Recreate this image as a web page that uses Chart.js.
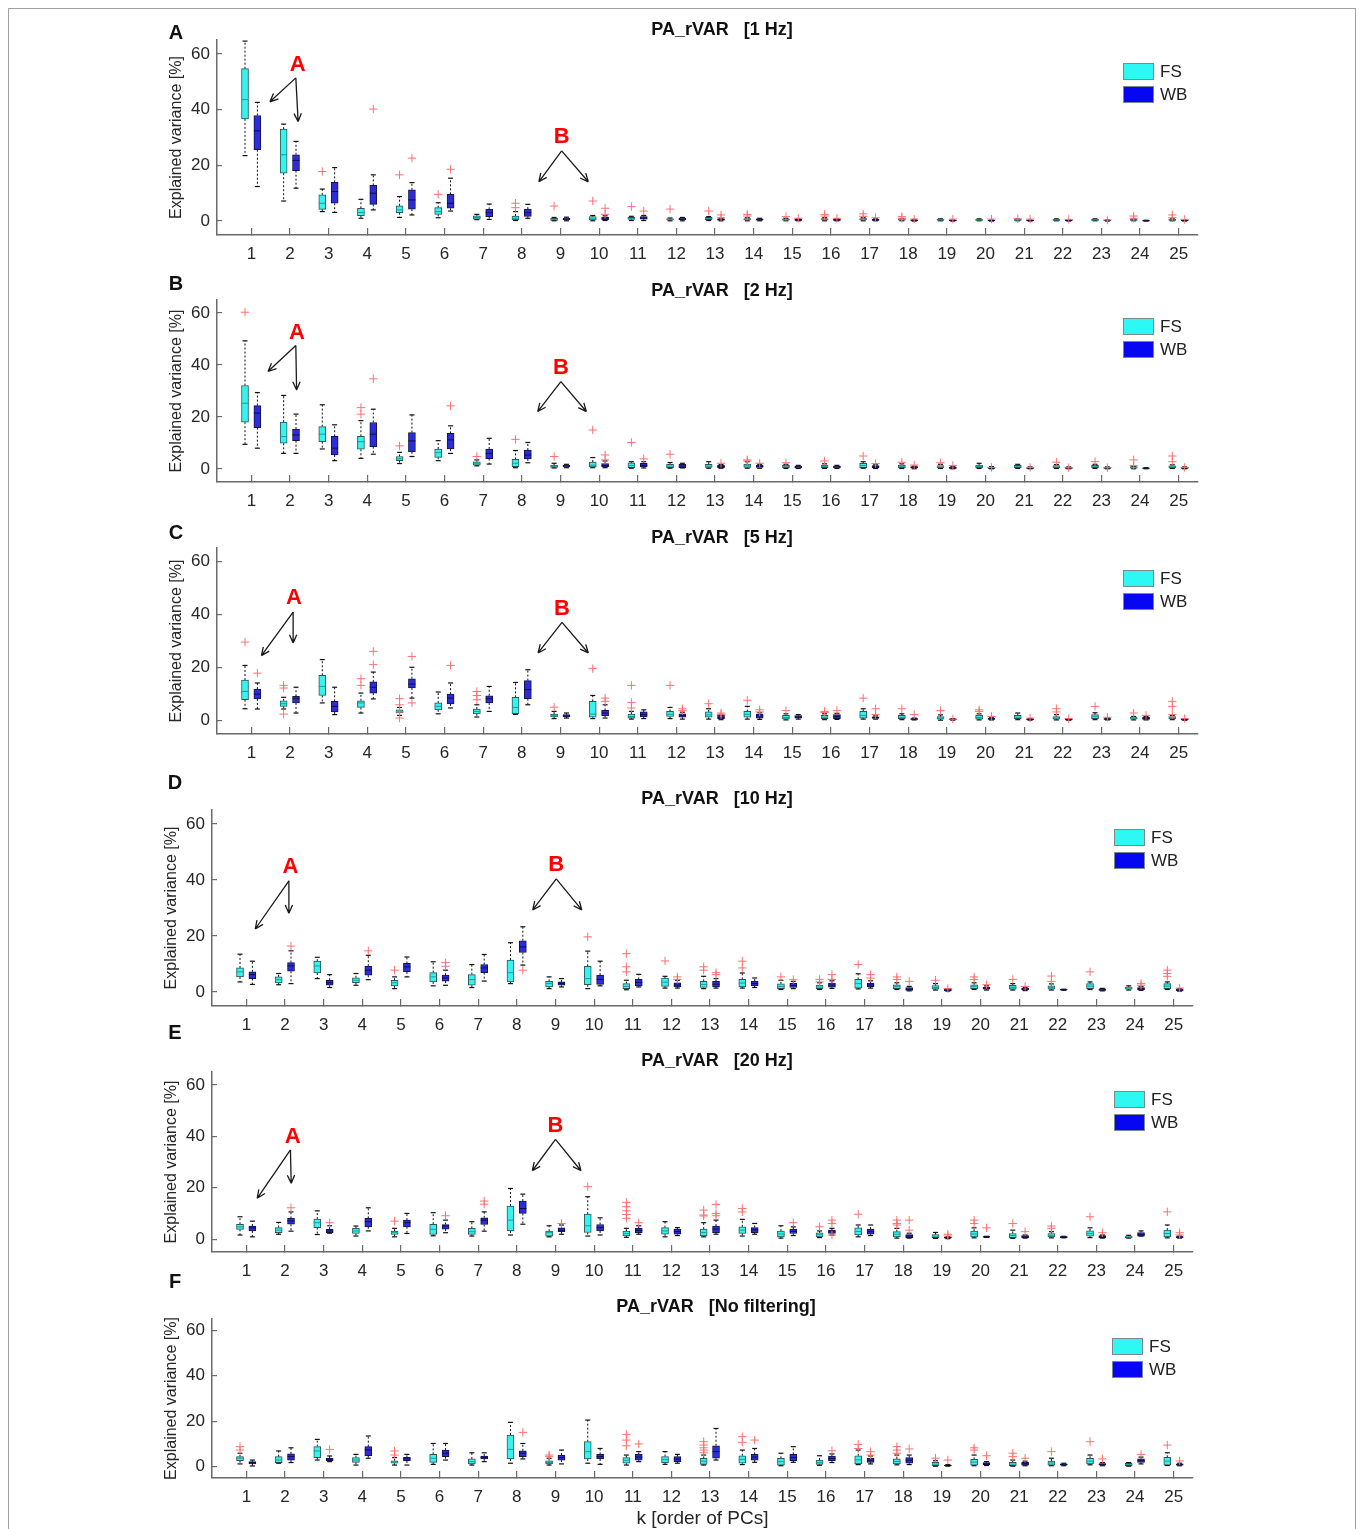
<!DOCTYPE html>
<html>
<head>
<meta charset="utf-8">
<script src="https://cdn.jsdelivr.net/npm/chart.js@4.4.1/dist/chart.umd.min.js"></script>
<style>
  body { margin: 0; width: 1362px; height: 1529px; overflow: hidden; background: #fff; position: relative;
         font-family: "Liberation Sans", Arial, sans-serif; }
  .frame { position: absolute; left: 8px; top: 8px; width: 1346px; height: 1540px; border: 1px solid #a0a0a0; }
  canvas { position: absolute; }
  .letter { position: absolute; font-weight: bold; font-size: 20px; color: #111; transform: translate(-50%, -50%); }
  .title { position: absolute; font-weight: bold; font-size: 18px; color: #111; white-space: pre; transform: translate(-50%, -50%); }
  .patch { position: absolute; width: 31px; height: 17px; box-sizing: border-box; border: 1px solid #7a8a8a; }
  .legtext { position: absolute; font-size: 17px; color: #222; transform: translateY(-50%); }
</style>
</head>
<body>
<div class="frame"></div>
<script>
// k = order of PCs
const categories = [1, 2, 3, 4, 5, 6, 7, 8, 9, 10, 11, 12, 13, 14, 15, 16, 17, 18, 19, 20, 21, 22, 23, 24, 25];
const yTickValues = [0, 20, 40, 60];
const seriesNames = ["FS", "WB"];

// box stats per k: [lower whisker, q1, median, q3, upper whisker]
const fs1Hz = [[23.5,36.7,43.6,54.7,64.6],[7.2,17.2,23.8,33.0,34.8],[3.4,4.2,6.4,9.4,11.5],[1.0,1.9,3.1,4.6,7.8],[1.3,3.0,4.0,5.5,8.8],
  [1.2,2.4,3.4,4.8,6.6],[0.5,0.7,1.3,1.9,2.4],[0.2,0.4,1.0,1.8,3.4],[0.1,0.2,0.6,1.0,1.3],[0.1,0.4,0.8,1.6,2.0],
  [0.2,0.6,0.9,1.3,1.7],[0.1,0.4,0.6,0.8,1.1],[0.2,0.5,0.9,1.3,1.6],[0.1,0.4,0.6,0.9,1.2],[0.1,0.3,0.5,0.8,1.0],
  [0.1,0.4,0.6,0.9,1.2],[0.1,0.4,0.6,0.9,1.2],[0.1,0.3,0.5,0.7,0.9],[0.1,0.2,0.4,0.6,0.8],[0.1,0.2,0.4,0.6,0.8],
  [0.1,0.2,0.4,0.6,0.8],[0.1,0.2,0.4,0.6,0.8],[0.1,0.2,0.4,0.6,0.8],[0.1,0.2,0.4,0.6,0.7],[0.1,0.2,0.4,0.6,0.8]];
const wb1Hz = [[12.4,25.6,32.4,37.9,42.6],[11.8,18.1,21.8,23.8,28.6],[3.1,6.4,10.6,13.9,19.2],[4.0,6.0,10.0,12.8,16.6],[2.2,4.3,7.6,11.2,13.8],
  [3.6,4.6,6.4,9.6,15.4],[0.6,1.6,3.0,4.2,6.1],[1.0,1.7,3.0,4.3,6.0],[0.1,0.4,0.7,1.1,1.4],[0.2,0.5,1.0,1.4,1.9],
  [0.2,0.7,1.1,1.6,2.0],[0.1,0.4,0.7,1.1,1.3],[0.1,0.3,0.5,0.8,1.0],[0.1,0.3,0.5,0.8,1.0],[0.1,0.2,0.4,0.6,0.8],
  [0.1,0.2,0.4,0.6,0.8],[0.1,0.2,0.4,0.6,0.8],[0.0,0.1,0.3,0.4,0.6],[0.0,0.1,0.2,0.3,0.4],[0.0,0.1,0.2,0.3,0.4],
  [0.0,0.1,0.2,0.3,0.4],[0.0,0.1,0.2,0.3,0.4],[0.0,0.1,0.2,0.3,0.4],[0.0,0.1,0.1,0.2,0.3],[0.0,0.1,0.2,0.3,0.4]];
const fsOut1Hz = [[3,17.8],[5,16.6],[6,9.6],[8,6.4],[8,4.8],[9,5.4],[10,7.2],[11,5.2],[12,4.3],[13,3.6],[14,2.4],[14,1.8],[15,1.6],
  [16,2.4],[16,1.8],[17,2.6],[17,1.7],[18,1.6],[18,1.0],[21,0.8],[24,1.8],[24,1.0],[25,2.2],[25,1.2]];
const wbOut1Hz = [[4,40.2],[5,22.6],[6,18.6],[10,4.6],[10,2.4],[11,3.6],[13,2.2],[13,1.2],[15,1.0],[16,1.0],[17,1.2],[18,0.7],
  [19,0.7],[20,0.7],[21,0.7],[22,0.6],[23,0.4],[25,0.6]];

const fs2Hz = [[9.5,18.0,25.3,32.1,49.3],[6.0,9.9,12.5,18.0,28.3],[7.7,10.5,13.4,16.3,24.7],[4.1,7.6,10.5,12.6,18.6],[2.1,3.2,3.9,4.8,6.4],
  [3.2,4.5,6.3,7.7,10.9],[1.2,1.5,2.2,2.8,3.5],[0.5,0.9,2.2,3.7,7.1],[0.4,0.6,1.0,1.5,2.2],[0.5,0.8,1.5,2.7,4.4],
  [0.3,0.5,1.3,2.4,2.8],[0.3,0.5,1.1,1.8,2.5],[0.3,0.6,1.1,1.8,2.8],[0.3,0.6,1.2,1.9,2.8],[0.2,0.5,0.9,1.4,1.8],
  [0.2,0.5,1.0,1.5,2.0],[0.3,0.5,1.3,2.2,2.8],[0.2,0.5,0.9,1.5,2.0],[0.2,0.5,0.8,1.3,1.8],[0.2,0.5,0.9,1.5,2.2],
  [0.2,0.5,0.9,1.4,1.8],[0.2,0.5,0.8,1.3,1.7],[0.2,0.5,0.9,1.4,1.8],[0.1,0.3,0.5,0.9,1.1],[0.2,0.5,0.8,1.2,1.6]];
const wb2Hz = [[8.0,15.9,21.5,24.4,29.4],[6.0,10.9,13.1,15.4,21.1],[3.2,5.4,8.0,12.6,17.0],[5.7,8.6,13.4,17.9,23.0],[4.8,6.6,10.8,14.0,20.8],
  [6.0,7.7,11.2,13.7,16.6],[1.9,4.0,6.0,7.7,11.8],[2.4,3.9,5.4,7.3,10.2],[0.5,0.8,1.2,1.5,1.8],[0.5,0.9,1.4,2.1,3.1],
  [0.4,0.8,1.4,2.2,2.8],[0.4,0.5,1.1,1.8,2.2],[0.3,0.5,0.9,1.4,1.7],[0.3,0.6,1.0,1.5,1.8],[0.2,0.4,0.8,1.1,1.4],
  [0.2,0.4,0.8,1.1,1.4],[0.2,0.5,0.9,1.3,1.6],[0.1,0.3,0.6,0.9,1.1],[0.1,0.2,0.4,0.7,0.9],[0.1,0.2,0.4,0.7,0.9],
  [0.1,0.2,0.4,0.6,0.8],[0.1,0.2,0.4,0.6,0.8],[0.1,0.2,0.4,0.6,0.8],[0.1,0.2,0.3,0.4,0.5],[0.1,0.2,0.4,0.6,0.8]];
const fsOut2Hz = [[1,60.3],[4,23.6],[4,21.1],[5,8.9],[7,4.8],[8,11.4],[9,4.8],[10,15.0],[11,10.2],[12,5.7],[14,3.5],[14,3.1],
  [15,2.4],[16,3.1],[17,5.0],[18,2.6],[19,2.4],[22,2.6],[23,2.8],[24,3.5],[24,1.3],[25,5.0],[25,2.8]];
const wbOut2Hz = [[4,34.7],[6,24.3],[10,5.4],[10,3.5],[11,3.9],[13,2.2],[14,2.2],[17,2.1],[18,1.5],[19,1.3],[20,0.6],[21,0.6],
  [22,0.5],[23,0.5],[25,0.6]];

const fs5Hz = [[4.5,7.9,11.0,15.3,20.8],[4.4,5.4,6.4,7.5,8.8],[6.7,9.5,12.9,17.1,23.0],[2.9,5.0,6.7,7.5,10.4],[2.0,2.9,3.5,4.1,5.0],
  [2.6,4.1,5.4,6.7,10.8],[1.4,2.6,3.5,4.4,6.0],[2.4,2.6,5.0,8.8,14.4],[0.8,1.4,1.9,2.5,3.5],[0.8,1.3,2.5,7.3,9.5],
  [0.6,1.0,1.6,2.5,3.5],[0.8,1.6,2.4,3.5,5.0],[0.6,1.3,2.2,3.3,4.5],[0.6,1.3,2.4,3.5,5.4],[0.3,0.6,1.2,2.0,2.6],
  [0.4,0.8,1.3,2.0,2.6],[0.6,1.0,2.0,3.5,4.5],[0.4,0.8,1.3,2.0,2.6],[0.2,0.6,1.0,1.6,2.2],[0.3,0.6,1.2,2.0,2.6],
  [0.4,0.8,1.3,2.0,2.9],[0.3,0.6,1.0,1.6,2.3],[0.4,0.8,1.5,2.3,3.0],[0.3,0.6,0.9,1.3,1.6],[0.4,0.8,1.1,1.6,2.0]];
const wb5Hz = [[4.4,8.2,10.0,11.9,14.2],[2.9,6.7,8.3,9.2,12.6],[2.3,3.3,5.4,7.3,12.6],[8.2,10.4,12.6,14.6,18.3],[8.5,12.3,13.8,15.8,20.1],
  [4.8,6.3,8.5,10.0,14.2],[3.5,6.7,8.3,9.4,12.9],[6.0,8.3,11.7,15.1,19.2],[1.0,1.4,1.8,2.3,2.9],[1.0,1.9,2.9,3.9,6.0],
  [0.8,1.4,2.3,3.3,4.1],[0.6,1.3,1.9,2.6,3.2],[0.4,0.8,1.3,2.0,2.4],[0.5,1.0,1.8,2.5,3.0],[0.6,1.0,1.4,1.9,2.3],
  [0.5,0.8,1.5,2.3,2.8],[0.6,0.9,1.2,1.5,1.8],[0.3,0.5,0.6,0.8,1.0],[0.2,0.4,0.5,0.6,0.8],[0.3,0.5,0.7,0.9,1.1],
  [0.2,0.4,0.5,0.6,0.8],[0.2,0.3,0.4,0.5,0.7],[0.3,0.5,0.6,0.8,1.0],[0.3,0.5,0.8,1.3,1.6],[0.2,0.3,0.4,0.5,0.7]];
const fsOut5Hz = [[1,29.6],[2,13.3],[2,12.3],[2,2.5],[4,15.8],[4,13.3],[5,8.3],[5,6.0],[5,3.3],[5,1.0],[7,11.0],[7,9.5],[7,7.9],
  [9,5.1],[10,19.6],[11,13.3],[11,6.9],[11,4.8],[12,13.3],[13,6.4],[14,7.7],[15,3.8],[16,3.5],[16,3.1],[17,8.5],[18,4.5],
  [19,3.8],[20,4.1],[20,3.5],[22,4.5],[22,3.3],[23,5.4],[24,2.9],[25,7.3],[25,5.4],[25,2.3]];
const wbOut5Hz = [[1,17.9],[4,26.1],[4,21.1],[5,24.2],[5,6.7],[6,20.8],[10,8.5],[10,7.3],[12,4.5],[12,3.8],[13,2.9],[13,2.3],
  [14,4.1],[14,3.3],[16,3.8],[17,4.5],[17,2.3],[18,2.3],[19,0.6],[20,1.6],[21,1.0],[22,0.8],[23,1.3],[24,2.0],[25,0.8]];

const fs10Hz = [[3.6,5.4,7.2,8.6,13.5],[2.6,3.2,4.4,5.4,6.6],[4.8,6.8,9.3,11.0,12.4],[2.4,3.3,4.2,5.1,6.6],[1.2,2.2,3.3,4.2,5.4],
  [2.2,3.6,5.4,6.9,10.8],[1.6,2.4,4.4,6.2,9.8],[3.0,3.6,6.9,11.4,17.6],[1.2,1.8,3.0,3.8,5.4],[1.2,2.6,4.8,9.2,14.6],
  [0.8,1.2,2.0,3.0,4.2],[1.4,2.0,3.5,5.0,5.6],[1.2,1.6,2.7,3.8,5.6],[1.4,1.8,3.2,4.5,6.8],[0.9,1.2,2.0,2.9,4.2],
  [0.9,1.2,1.8,2.5,3.3],[1.1,1.4,3.0,4.5,6.5],[0.9,1.2,1.9,2.6,3.3],[0.7,1.0,1.6,2.3,3.0],[0.9,1.2,1.9,2.6,3.3],
  [0.7,1.0,1.7,2.4,3.0],[0.7,1.0,1.6,2.2,2.9],[0.9,1.2,2.1,3.0,3.6],[0.7,1.0,1.4,1.8,2.2],[0.9,1.2,2.1,3.0,3.6]];
const wb10Hz = [[2.7,4.8,6.2,7.2,11.0],[3.0,7.4,9.3,10.5,14.7],[1.6,2.4,3.3,4.2,6.2],[4.4,6.0,7.8,9.2,13.1],[5.4,7.2,9.0,10.2,12.5],
  [2.4,3.9,5.0,6.0,7.8],[3.9,6.9,8.6,9.8,13.4],[9.6,14.1,16.1,18.3,23.3],[1.8,2.4,3.0,3.6,4.8],[2.2,2.7,4.5,6.0,11.0],
  [1.8,2.2,3.4,4.5,6.3],[1.4,1.8,2.5,3.3,4.2],[1.4,1.8,2.8,3.8,4.8],[1.6,2.2,3.0,3.9,5.0],[1.2,1.6,2.3,3.1,3.8],
  [1.3,1.7,2.5,3.2,4.0],[1.4,1.8,2.5,3.2,4.0],[0.4,0.6,1.0,1.6,2.0],[0.3,0.5,0.7,1.0,1.2],[0.7,1.0,1.4,1.8,2.2],
  [0.5,0.7,1.0,1.3,1.6],[0.6,0.7,0.8,0.9,1.0],[0.4,0.6,0.8,1.1,1.3],[0.6,0.8,1.1,1.6,1.9],[0.3,0.5,0.7,1.0,1.2]];
const fsOut10Hz = [[5,7.8],[10,19.7],[11,13.7],[11,9.0],[11,7.2],[12,11.1],[13,9.0],[13,7.8],[14,11.0],[14,8.6],[15,5.4],[16,4.5],
  [16,3.6],[17,9.8],[18,5.4],[18,4.5],[19,4.2],[20,5.4],[20,4.5],[21,4.5],[22,5.7],[22,3.8],[23,7.2],[25,7.8],[25,6.6],[25,5.6]];
const wbOut10Hz = [[2,16.4],[4,14.7],[6,10.5],[6,9.2],[8,7.8],[12,5.4],[12,4.5],[13,6.9],[13,6.2],[15,4.4],[16,6.2],[16,4.5],
  [17,6.2],[17,5.0],[18,3.8],[19,1.2],[20,2.6],[21,2.0],[24,3.0],[24,2.4],[25,1.4]];

const fs20Hz = [[1.6,3.8,4.8,5.8,8.7],[1.9,2.5,3.5,4.5,6.5],[1.8,4.5,6.4,7.8,11.0],[1.2,2.2,3.2,4.2,5.1],[0.9,1.8,2.5,3.1,4.2],
  [1.3,1.8,3.8,5.8,10.3],[1.2,1.8,2.9,4.2,6.8],[1.6,3.2,7.4,12.9,19.7],[0.9,1.2,2.5,3.1,5.2],[1.2,2.6,5.2,9.7,16.5],
  [0.7,1.3,2.2,3.1,4.2],[0.9,1.9,3.2,4.5,6.8],[0.9,1.3,2.6,3.9,6.4],[1.2,2.2,3.5,4.8,7.7],[0.4,0.9,2.0,3.1,5.2],
  [0.6,0.9,1.7,2.5,3.2],[0.9,1.6,3.0,4.4,5.5],[0.4,0.9,1.9,2.9,4.2],[0.3,0.6,1.2,1.8,2.6],[0.5,0.9,2.0,3.1,4.4],
  [0.3,0.6,1.4,2.2,3.5],[0.5,0.9,1.5,2.2,2.9],[0.6,1.2,2.2,3.2,4.4],[0.4,0.6,0.9,1.2,1.5],[0.5,0.9,2.2,3.5,5.5]];
const wb20Hz = [[0.9,3.2,4.4,5.1,7.0],[3.1,5.8,7.1,8.1,10.6],[2.3,2.5,3.2,3.9,5.2],[3.2,4.8,6.8,8.1,12.2],[2.2,4.8,6.4,7.4,10.0],
  [2.5,3.9,5.1,5.7,7.4],[3.1,5.7,7.4,8.3,10.6],[5.8,10.0,11.9,14.8,17.5],[1.9,2.9,3.5,4.4,5.5],[1.6,3.2,4.5,5.7,8.3],
  [1.9,2.5,3.4,4.2,5.2],[1.4,1.9,2.9,3.9,4.5],[1.9,2.5,3.9,5.1,7.4],[1.9,2.5,3.6,4.5,6.1],[1.4,2.2,3.0,3.9,4.8],
  [1.6,2.2,2.8,3.5,4.2],[1.4,1.9,2.9,3.9,5.5],[0.4,0.6,1.2,1.8,2.3],[0.2,0.4,0.6,0.8,1.0],[0.7,0.8,0.9,1.0,1.1],
  [0.4,0.6,0.9,1.4,1.6],[0.5,0.6,0.8,1.0,1.1],[0.4,0.6,0.9,1.4,1.6],[1.2,1.2,1.9,2.6,3.2],[0.4,0.6,0.8,1.0,1.2]];
const fsOut20Hz = [[5,7.0],[10,20.4],[11,14.3],[11,12.6],[11,11.0],[11,9.6],[11,8.1],[13,11.3],[13,9.4],[13,9.0],[14,11.9],
  [14,10.6],[16,4.8],[17,9.7],[18,7.4],[18,6.1],[18,5.5],[20,7.4],[20,6.1],[21,6.1],[22,5.1],[22,4.2],[23,8.7],[25,10.6]];
const wbOut20Hz = [[2,12.2],[3,6.4],[6,9.1],[7,14.8],[7,13.6],[9,6.1],[11,6.4],[13,13.5],[13,10.0],[13,9.1],[15,6.4],[16,7.4],
  [16,6.1],[16,1.6],[18,7.4],[18,3.5],[19,1.9],[19,1.2],[20,4.4],[21,2.9],[23,2.5],[25,2.5],[25,1.6]];

const fsNoFilt = [[1.2,2.6,3.7,4.4,5.9],[1.5,1.8,2.9,4.4,6.9],[2.9,4.0,6.9,8.8,12.0],[0.7,1.9,2.9,4.0,5.4],[0.7,1.5,1.9,2.6,4.0],
  [1.0,1.9,3.7,5.4,10.2],[0.7,1.2,2.2,3.4,6.1],[1.5,3.4,7.6,13.9,19.5],[0.7,1.2,1.8,2.6,3.7],[1.5,3.4,6.6,11.0,20.5],
  [0.7,1.5,2.8,4.0,5.1],[1.0,1.8,3.1,4.4,6.6],[0.7,1.0,2.4,3.7,5.1],[0.9,1.5,3.2,4.8,7.3],[0.4,0.7,2.2,3.7,5.9],
  [0.6,1.0,1.9,2.9,4.8],[0.9,1.2,3.0,4.8,7.3],[0.8,1.2,2.3,3.4,5.1],[0.2,0.4,1.1,1.9,2.6],[0.4,0.7,2.0,3.2,5.1],
  [0.2,0.4,1.1,1.9,2.9],[0.4,0.7,1.6,2.5,3.7],[0.8,1.2,2.4,3.7,5.1],[0.2,0.4,0.9,1.5,1.8],[0.5,0.7,2.4,4.1,6.1]];
const wbNoFilt = [[0.3,1.2,1.8,2.2,2.9],[1.8,2.9,4.4,5.6,8.3],[2.2,2.6,3.2,3.8,4.7],[3.7,4.8,7.3,8.8,13.5],[0.7,2.5,3.4,4.1,5.4],
  [2.9,4.4,5.9,7.3,10.2],[2.2,3.4,4.1,4.7,6.1],[3.4,4.4,5.9,7.0,10.2],[1.2,2.9,4.0,5.1,7.3],[1.0,3.4,4.4,5.4,8.0],
  [2.2,2.9,4.2,5.4,6.6],[1.5,2.2,3.3,4.4,5.4],[2.9,3.7,6.6,9.2,16.8],[1.9,2.9,4.2,5.4,8.0],[1.9,2.6,4.0,5.4,8.8],
  [1.8,2.6,3.6,4.7,5.6],[1.2,1.9,2.8,3.7,4.7],[0.9,1.5,2.8,4.0,5.1],[0.2,0.3,0.5,0.7,0.9],[0.5,0.9,1.3,1.8,2.2],
  [0.4,0.7,1.3,1.9,2.4],[0.4,0.6,0.9,1.2,1.5],[0.4,0.6,1.0,1.4,1.8],[1.2,1.9,2.6,3.4,4.2],[0.4,0.6,0.9,1.2,1.5]];
const fsOutNoFilt = [[1,8.8],[1,7.3],[5,6.9],[5,5.1],[9,5.1],[9,4.4],[11,14.2],[11,11.7],[11,9.2],[13,11.0],[13,9.5],[13,8.3],
  [13,7.3],[13,6.1],[14,13.2],[14,10.7],[17,9.8],[17,8.0],[18,8.8],[18,7.3],[18,5.9],[19,3.7],[20,8.3],[20,7.3],[21,5.9],
  [21,4.4],[22,6.6],[23,11.0],[25,9.5]];
const wbOutNoFilt = [[3,7.6],[8,15.1],[11,10.0],[14,11.7],[16,7.0],[17,6.6],[17,5.1],[18,7.8],[19,2.9],[20,4.8],[21,3.7],
  [23,3.4],[24,5.4],[25,2.5]];

const panelTitles = ["PA_rVAR   [1 Hz]", "PA_rVAR   [2 Hz]", "PA_rVAR   [5 Hz]", "PA_rVAR   [10 Hz]", "PA_rVAR   [20 Hz]", "PA_rVAR   [No filtering]"];
const panelLetters = ["A", "B", "C", "D", "E", "F"];

// "A" / "B" arrow annotations, in data units: [label pos, arrow origin, arrow tips]
const notesList = [
  [{t: "A", at: [2.2, 56], from: [2.15, 51.4], to: [[1.48, 42.8], [2.21, 35.7]]},
   {t: "B", at: [9.03, 30.3], from: [9.03, 25.2], to: [[8.44, 14.1], [9.72, 14.1]]}],
  [{t: "A", at: [2.18, 52.3], from: [2.15, 47.5], to: [[1.43, 37.5], [2.17, 30.4]]},
   {t: "B", at: [9.01, 38.8], from: [9.01, 33.6], to: [[8.41, 22.1], [9.67, 22.1]]}],
  [{t: "A", at: [2.10, 46.2], from: [2.08, 40.9], to: [[1.26, 24.5], [2.08, 29.3]]},
   {t: "B", at: [9.04, 42.2], from: [9.04, 37.0], to: [[8.42, 25.5], [9.72, 25.5]]}],
  [{t: "A", at: [2.14, 44.8], from: [2.10, 39.7], to: [[1.23, 22.5], [2.10, 28.1]]},
   {t: "B", at: [9.02, 45.4], from: [9.02, 40.4], to: [[8.41, 29.3], [9.68, 29.3]]}],
  [{t: "A", at: [2.20, 39.9], from: [2.14, 34.7], to: [[1.28, 15.9], [2.16, 21.7]]},
   {t: "B", at: [9.00, 44.0], from: [9.00, 38.8], to: [[8.40, 26.6], [9.66, 26.6]]}],
  []
];

const fsBoxes = [fs1Hz, fs2Hz, fs5Hz, fs10Hz, fs20Hz, fsNoFilt];
const wbBoxes = [wb1Hz, wb2Hz, wb5Hz, wb10Hz, wb20Hz, wbNoFilt];
const fsOutliers = [fsOut1Hz, fsOut2Hz, fsOut5Hz, fsOut10Hz, fsOut20Hz, fsOutNoFilt];
const wbOutliers = [wbOut1Hz, wbOut2Hz, wbOut5Hz, wbOut10Hz, wbOut20Hz, wbOutNoFilt];

// page layout (pixels)
const layout = [
  {left: 217, right: 1198, top: 40, bottom: 235, titleX: 722, titleY: 29, letterX: 176, letterY: 32, legX: 1123, legY: 63},
  {left: 217, right: 1198, top: 300, bottom: 482, titleX: 722, titleY: 290, letterX: 176, letterY: 283, legX: 1123, legY: 318},
  {left: 217, right: 1198, top: 548, bottom: 734, titleX: 722, titleY: 537, letterX: 176, letterY: 532, legX: 1123, legY: 570},
  {left: 212, right: 1193, top: 810, bottom: 1006, titleX: 717, titleY: 798, letterX: 175, letterY: 782, legX: 1114, legY: 829},
  {left: 212, right: 1193, top: 1072, bottom: 1252, titleX: 717, titleY: 1060, letterX: 175, letterY: 1032, legX: 1114, legY: 1091},
  {left: 212, right: 1193, top: 1319, bottom: 1478, titleX: 716, titleY: 1306, letterX: 175, letterY: 1281, legX: 1112, legY: 1338}
];

const FONT = '"Liberation Sans", Arial, sans-serif';
Chart.defaults.font.family = FONT;
Chart.defaults.color = "#262626";

const styles = {
  FS: {fill: "#35f3ee", edge: "#2d5656", mid: "#1e9c97", patch: "#2ef8f4", offset: -0.165},
  WB: {fill: "#2c2cd8", edge: "#14144a", mid: "#0c0c55", patch: "#0606f2", offset: 0.155}
};

const arrowNotes = {
  id: "arrowNotes",
  afterDatasetsDraw(chart, args, opts) {
    const items = opts.items || [];
    const {ctx} = chart;
    const xs = chart.scales.x, ys = chart.scales.y;
    ctx.save();
    items.forEach(n => {
      ctx.fillStyle = "#ff0000";
      ctx.font = "bold 22px " + FONT;
      ctx.textAlign = "center";
      ctx.textBaseline = "middle";
      ctx.fillText(n.t, xs.getPixelForValue(n.at[0]), ys.getPixelForValue(n.at[1]));
      const ox = xs.getPixelForValue(n.from[0]), oy = ys.getPixelForValue(n.from[1]);
      ctx.strokeStyle = "#1a1a1a";
      ctx.lineWidth = 1.3;
      n.to.forEach(p => {
        const tx = xs.getPixelForValue(p[0]), ty = ys.getPixelForValue(p[1]);
        const ang = Math.atan2(ty - oy, tx - ox);
        ctx.beginPath();
        ctx.moveTo(ox, oy);
        ctx.lineTo(tx, ty);
        for (const s of [-1, 1]) {
          ctx.moveTo(tx, ty);
          ctx.lineTo(tx - 9 * Math.cos(ang + s * 0.42), ty - 9 * Math.sin(ang + s * 0.42));
        }
        ctx.stroke();
      });
    });
    ctx.restore();
  }
};

function seriesDatasets(name, boxes, outliers) {
  const st = styles[name];
  const xs = categories.map(k => k + st.offset);
  const whisker = [];
  const caps = [];
  boxes.forEach((b, i) => {
    whisker.push({x: xs[i], y: b[3]}, {x: xs[i], y: b[4]}, {x: xs[i], y: null},
                 {x: xs[i], y: b[1]}, {x: xs[i], y: b[0]}, {x: xs[i], y: null});
    caps.push({x: xs[i], y: b[0]}, {x: xs[i], y: b[4]});
  });
  return [
    {type: "line", label: name + " whiskers", data: whisker, borderColor: "#111", borderWidth: 1,
     borderDash: [2, 2], pointRadius: 0, spanGaps: false, order: 4},
    {type: "bar", label: name, data: boxes.map((b, i) => ({x: xs[i], y: [b[1], b[3]]})),
     backgroundColor: st.fill, borderColor: st.edge, borderWidth: 1, borderSkipped: false,
     barThickness: 7, grouped: false, order: 3},
    {type: "scatter", label: name + " median", data: boxes.map((b, i) => ({x: xs[i], y: b[2]})),
     pointStyle: "line", pointRadius: 3.5, borderColor: st.mid, borderWidth: 1, order: 2},
    {type: "scatter", label: name + " caps", data: caps,
     pointStyle: "line", pointRadius: 2.5, borderColor: "#111", borderWidth: 1.2, order: 2},
    {type: "scatter", label: name + " outliers", data: outliers.map(o => ({x: o[0] + st.offset, y: o[1]})),
     pointStyle: "cross", pointRadius: 4.2, borderColor: "#ff7070", borderWidth: 1, order: 1}
  ];
}

function addDiv(cls, text, x, y) {
  const d = document.createElement("div");
  d.className = cls;
  d.textContent = text;
  d.style.left = x + "px";
  d.style.top = y + "px";
  document.body.appendChild(d);
  return d;
}

layout.forEach((g, p) => {
  const last = p === layout.length - 1;
  const yAxisW = 67;
  const padTop = 30;
  const xAxisH = last ? 60 : 32;
  const W = 1080;
  const H = padTop + (g.bottom - g.top) + xAxisH;
  const cv = document.createElement("canvas");
  cv.width = W;
  cv.height = H;
  cv.style.left = (g.left - yAxisW) + "px";
  cv.style.top = (g.top - padTop) + "px";
  document.body.appendChild(cv);

  addDiv("letter", panelLetters[p], g.letterX, g.letterY);
  addDiv("title", panelTitles[p], g.titleX, g.titleY);
  seriesNames.forEach((s, j) => {
    const patch = addDiv("patch", "", g.legX, g.legY + j * 23);
    patch.style.background = styles[s].patch;
    addDiv("legtext", s, g.legX + 37, g.legY + 9 + j * 23);
  });

  new Chart(cv, {
    type: "bar",
    data: {
      datasets: [
        ...seriesDatasets("FS", fsBoxes[p], fsOutliers[p]),
        ...seriesDatasets("WB", wbBoxes[p], wbOutliers[p])
      ]
    },
    options: {
      responsive: false,
      animation: false,
      events: [],
      layout: {padding: {left: 0, top: padTop, right: W - yAxisW - (g.right - g.left), bottom: 0}},
      plugins: {
        legend: {display: false},
        tooltip: {enabled: false},
        arrowNotes: {items: notesList[p]}
      },
      scales: {
        x: {
          type: "linear",
          min: 0.11,
          max: 25.5,
          offset: false,
          afterBuildTicks: s => { s.ticks = categories.map(v => ({value: v})); },
          afterFit: s => { s.height = xAxisH; },
          ticks: {autoSkip: false, maxRotation: 0, padding: 16, font: {size: 17}, color: "#262626",
                  callback: v => String(v)},
          grid: {drawOnChartArea: false, drawTicks: true, tickLength: -7, color: "#6a6a6a", lineWidth: 1.2, offset: false},
          border: {display: true, color: "#6a6a6a", width: 1.5},
          title: {display: last, text: "k [order of PCs]", font: {size: 19}, color: "#262626", padding: {top: 0, bottom: 8}}
        },
        y: {
          type: "linear",
          min: -5,
          max: 65,
          afterBuildTicks: s => { s.ticks = yTickValues.map(v => ({value: v})); },
          afterFit: s => { s.width = yAxisW; },
          ticks: {padding: 12, font: {size: 17}, color: "#262626"},
          grid: {drawOnChartArea: false, drawTicks: true, tickLength: -5, color: "#6a6a6a", lineWidth: 1.2},
          border: {display: true, color: "#6a6a6a", width: 1.5},
          title: {display: true, text: "Explained variance [%]", font: {size: 16}, color: "#262626", padding: {top: 17, bottom: 0}}
        }
      }
    },
    plugins: [arrowNotes]
  });
});
</script>
</body>
</html>
